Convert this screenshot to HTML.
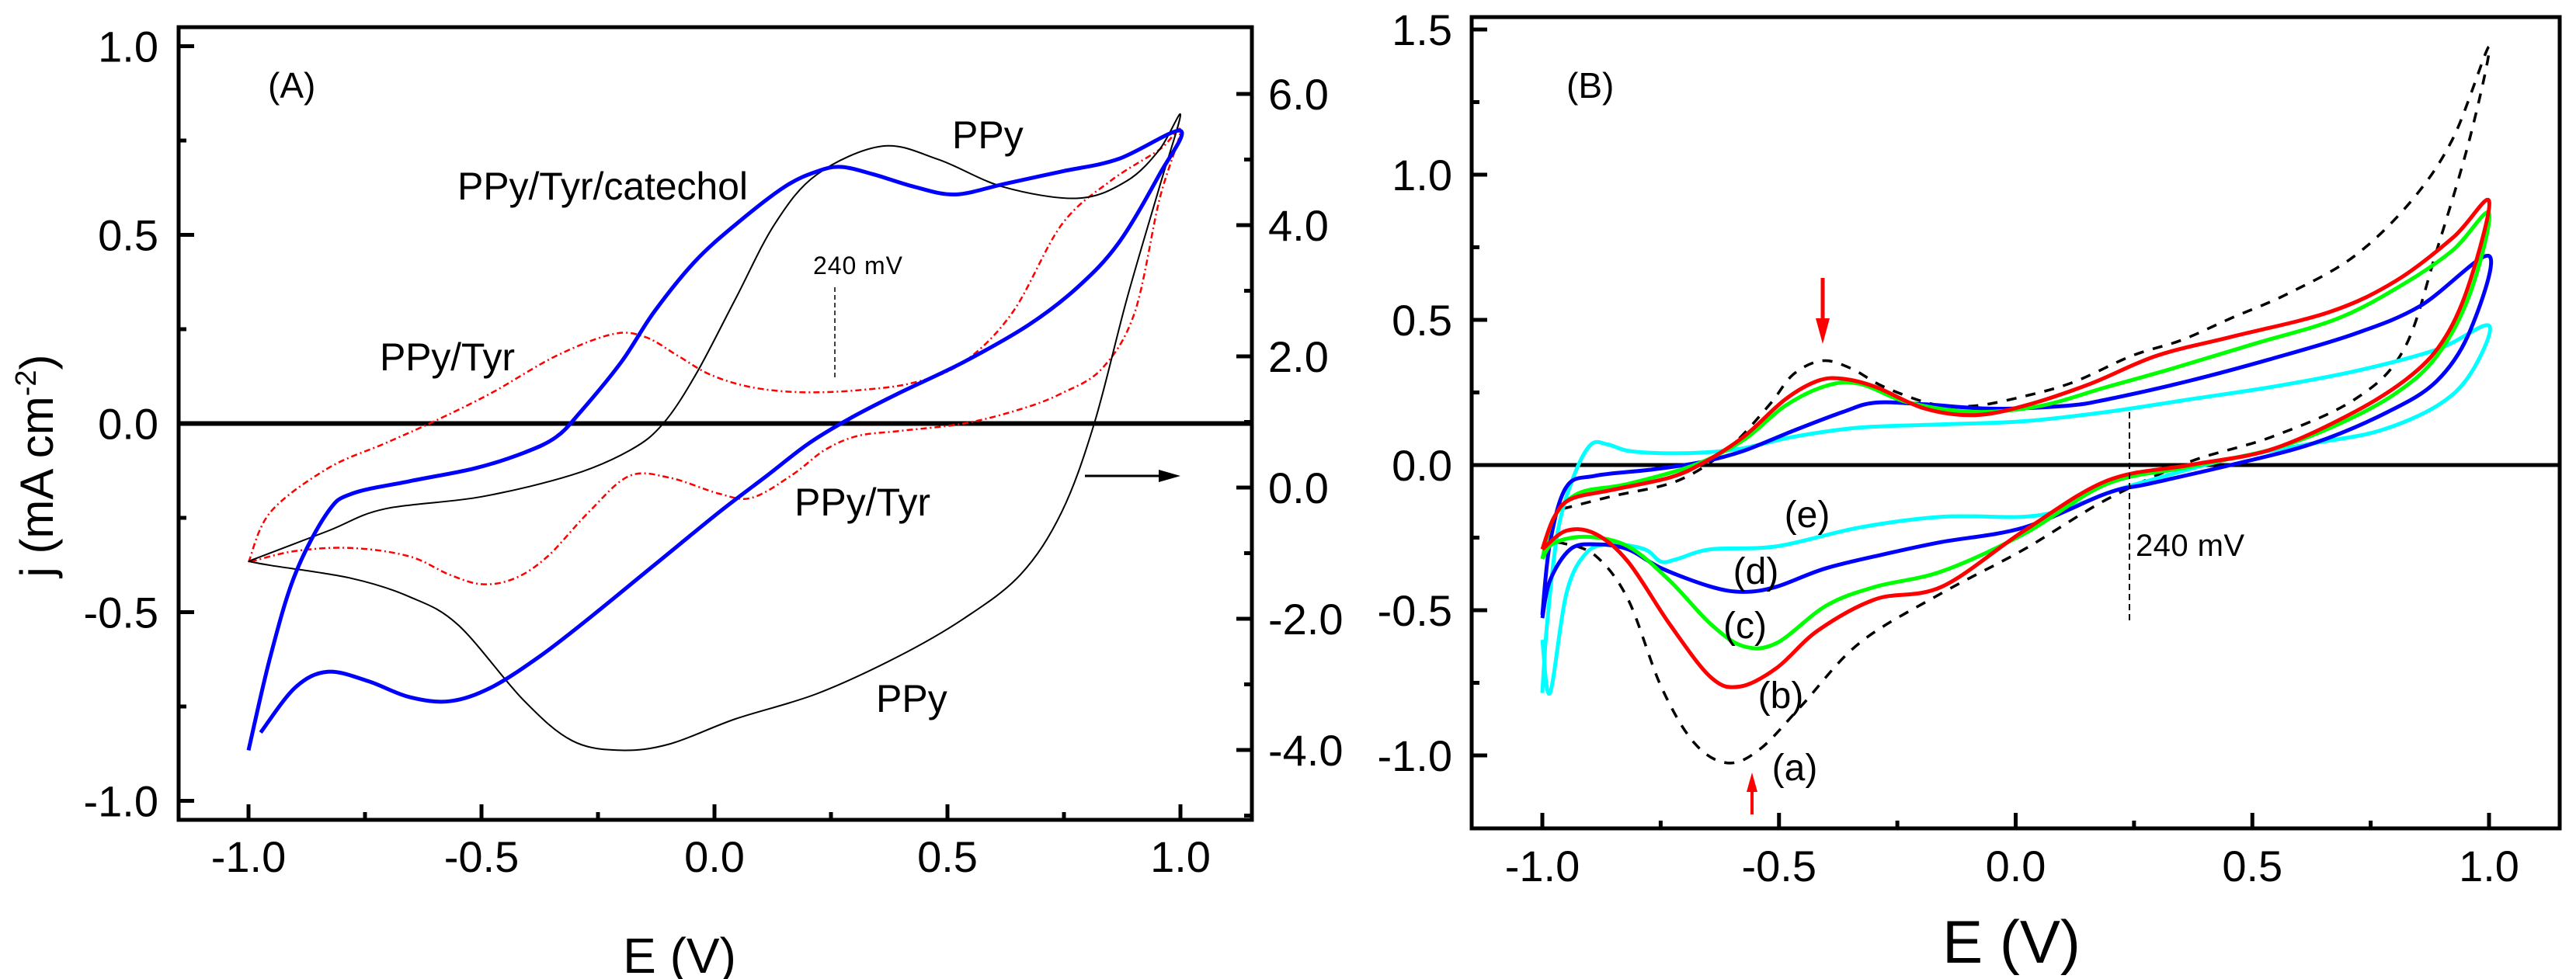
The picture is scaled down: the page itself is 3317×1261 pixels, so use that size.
<!DOCTYPE html>
<html><head><meta charset="utf-8">
<style>
html,body{margin:0;padding:0;background:#fff;}
svg{display:block;}
text{font-family:"Liberation Sans",sans-serif;fill:#000;}
.tk{font-size:56px;}
.nar{font-family:"Liberation Sans Narrow","Liberation Sans",sans-serif;}
</style></head>
<body>
<svg id="chart" width="3317" height="1261" viewBox="0 0 3317 1261" xmlns="http://www.w3.org/2000/svg">
<g id="panelA"></g>
<g id="panelB"></g>
</svg>
<script>
// ---------- Panel A data ----------
const aXTicks = [-1.0,-0.5,0.0,0.5,1.0];
const aYTicks = [1.0,0.5,0.0,-0.5,-1.0];
const aY2Ticks = [6.0,4.0,2.0,0.0,-2.0,-4.0];
const aPPyE = [-1.00,-0.83,-0.71,-0.50,-0.305,-0.18,-0.11,-0.04,0.045,0.13,0.22,0.36,0.48,0.62,0.78,0.885,0.955,1.00,0.955,0.885,0.815,0.745,0.657,0.535,0.395,0.22,0.045,-0.095,-0.20,-0.305,-0.41,-0.55,-0.655,-0.78,-0.953,-1.00];
const aPPyJ = [-0.365,-0.285,-0.227,-0.194,-0.136,-0.07,0.0,0.13,0.33,0.53,0.66,0.735,0.70,0.627,0.597,0.643,0.726,0.818,0.627,0.33,0.0,-0.235,-0.40,-0.517,-0.617,-0.716,-0.783,-0.849,-0.866,-0.841,-0.733,-0.534,-0.459,-0.41,-0.376,-0.365];
const aCatE = [-1.00,-0.953,-0.90,-0.83,-0.778,-0.655,-0.515,-0.41,-0.34,-0.288,-0.20,-0.13,-0.043,0.045,0.15,0.22,0.272,0.342,0.43,0.517,0.622,0.745,0.867,1.0,0.955,0.867,0.78,0.675,0.535,0.395,0.29,0.202,0.115,0.01,-0.13,-0.27,-0.375,-0.48,-0.568,-0.655,-0.743,-0.83,-0.90,-0.974];
const aCatJ = [-0.866,-0.617,-0.40,-0.235,-0.186,-0.153,-0.119,-0.078,-0.036,0.03,0.163,0.295,0.428,0.527,0.627,0.668,0.68,0.66,0.627,0.607,0.635,0.668,0.701,0.776,0.66,0.478,0.362,0.262,0.163,0.08,0.013,-0.053,-0.136,-0.235,-0.376,-0.517,-0.617,-0.70,-0.736,-0.725,-0.683,-0.658,-0.70,-0.819];
const aTyrE = [-1,-0.953,-0.83,-0.708,-0.603,-0.48,-0.34,-0.218,-0.148,-0.078,-0.008,0.08,0.185,0.307,0.43,0.535,0.64,0.745,0.85,0.955,1,0.955,0.902,0.832,0.745,0.657,0.535,0.395,0.307,0.237,0.167,0.08,0.01,-0.095,-0.183,-0.27,-0.358,-0.428,-0.498,-0.568,-0.655,-0.778,-0.90,-1];
const aTyrJ = [-0.368,-0.235,-0.119,-0.053,0.005,0.08,0.179,0.237,0.229,0.179,0.129,0.096,0.083,0.088,0.109,0.163,0.295,0.527,0.643,0.726,0.776,0.594,0.295,0.146,0.08,0.038,0,-0.02,-0.033,-0.07,-0.136,-0.197,-0.186,-0.144,-0.139,-0.235,-0.352,-0.41,-0.426,-0.401,-0.352,-0.33,-0.338,-0.368];

// ---------- Panel B data ----------
const bXTicks = [-1.0,-0.5,0.0,0.5,1.0];
const bYTicks = [1.5,1.0,0.5,0.0,-0.5,-1.0];
const bAE = [-0.958,-0.854,-0.714,-0.609,-0.522,-0.47,-0.409,-0.348,-0.278,-0.173,-0.086,0.018,0.123,0.245,0.35,0.454,0.576,0.716,0.838,0.925,1.0,0.96,0.89,0.82,0.716,0.541,0.367,0.193,0.018,-0.156,-0.33,-0.452,-0.54,-0.609,-0.679,-0.749,-0.819,-0.888,-0.958,-0.993];
const bAJ = [-0.151,-0.108,-0.054,0.054,0.204,0.312,0.359,0.333,0.269,0.209,0.204,0.237,0.286,0.376,0.43,0.505,0.591,0.72,0.914,1.129,1.441,1.129,0.742,0.398,0.226,0.097,0.011,-0.118,-0.29,-0.441,-0.613,-0.828,-0.978,-1.026,-0.957,-0.763,-0.462,-0.312,-0.269,-0.269];
const bBE = [-1,-0.976,-0.941,-0.854,-0.731,-0.662,-0.575,-0.487,-0.418,-0.365,-0.296,-0.191,-0.086,0.018,0.158,0.297,0.454,0.663,0.803,0.925,1.0,0.96,0.908,0.838,0.716,0.541,0.367,0.193,0.018,-0.156,-0.296,-0.418,-0.505,-0.583,-0.644,-0.731,-0.819,-0.888,-0.949,-1];
const bBJ = [-0.29,-0.183,-0.118,-0.086,-0.043,0.006,0.097,0.226,0.29,0.297,0.269,0.194,0.172,0.204,0.28,0.376,0.441,0.527,0.634,0.785,0.91,0.634,0.441,0.312,0.183,0.054,0,-0.054,-0.226,-0.419,-0.462,-0.57,-0.699,-0.763,-0.731,-0.548,-0.333,-0.237,-0.226,-0.29];
const bCE = [-1,-0.976,-0.923,-0.819,-0.679,-0.575,-0.487,-0.4,-0.33,-0.226,-0.086,0.053,0.193,0.332,0.507,0.681,0.82,0.925,1,0.96,0.89,0.803,0.681,0.541,0.367,0.193,0.018,-0.156,-0.296,-0.4,-0.505,-0.575,-0.644,-0.731,-0.819,-0.906,-0.976,-1];
const bCJ = [-0.323,-0.183,-0.097,-0.065,0,0.086,0.204,0.273,0.28,0.215,0.183,0.204,0.269,0.333,0.419,0.505,0.624,0.742,0.867,0.591,0.376,0.247,0.14,0.054,-0.006,-0.065,-0.237,-0.366,-0.419,-0.484,-0.613,-0.624,-0.548,-0.398,-0.28,-0.247,-0.269,-0.323];
const bDE = [-1,-0.984,-0.949,-0.888,-0.766,-0.662,-0.575,-0.47,-0.365,-0.296,-0.191,-0.051,0.106,0.193,0.367,0.541,0.716,0.855,1,0.96,0.89,0.786,0.629,0.454,0.28,0.193,0.018,-0.156,-0.261,-0.4,-0.505,-0.575,-0.644,-0.749,-0.819,-0.888,-0.941,-0.984,-1];
const bDJ = [-0.516,-0.269,-0.075,-0.037,-0.015,0.011,0.049,0.118,0.183,0.215,0.209,0.194,0.204,0.226,0.29,0.366,0.452,0.548,0.72,0.462,0.29,0.183,0.075,0,-0.065,-0.097,-0.215,-0.265,-0.301,-0.355,-0.419,-0.437,-0.419,-0.355,-0.29,-0.273,-0.29,-0.398,-0.527];
const bEE = [-1,-0.99,-0.967,-0.932,-0.897,-0.862,-0.819,-0.749,-0.662,-0.575,-0.47,-0.33,-0.156,0.018,0.193,0.367,0.541,0.716,0.89,1,0.96,0.89,0.768,0.629,0.454,0.28,0.193,0.106,0.018,-0.156,-0.33,-0.505,-0.644,-0.714,-0.749,-0.784,-0.854,-0.906,-0.949,-0.984,-1];
const bEJ = [-0.785,-0.548,-0.226,-0.032,0.071,0.071,0.049,0.041,0.043,0.058,0.097,0.129,0.14,0.151,0.183,0.226,0.269,0.323,0.398,0.48,0.312,0.204,0.118,0.075,0.022,-0.054,-0.097,-0.151,-0.178,-0.178,-0.215,-0.28,-0.29,-0.323,-0.333,-0.29,-0.273,-0.301,-0.441,-0.785,-0.602];

const NS = "http://www.w3.org/2000/svg";
function mk(parent, tag, attrs){
  const e = document.createElementNS(NS, tag);
  for (const k in attrs) e.setAttribute(k, attrs[k]);
  parent.appendChild(e);
  return e;
}
function smooth(pts){
  let d = "M" + pts[0][0].toFixed(1) + "," + pts[0][1].toFixed(1);
  for (let i=0;i<pts.length-1;i++){
    const p0 = pts[i-1]||pts[i], p1=pts[i], p2=pts[i+1], p3=pts[i+2]||p2;
    const c1x = p1[0]+(p2[0]-p0[0])/6, c1y = p1[1]+(p2[1]-p0[1])/6;
    const c2x = p2[0]-(p3[0]-p1[0])/6, c2y = p2[1]-(p3[1]-p1[1])/6;
    d += " C"+c1x.toFixed(1)+","+c1y.toFixed(1)+" "+c2x.toFixed(1)+","+c2y.toFixed(1)+" "+p2[0].toFixed(1)+","+p2[1].toFixed(1);
  }
  return d;
}

// ================= PANEL A =================
(function(){
  const g = document.getElementById('panelA');
  const L=230,R=1612,T=35,B=1056;
  const xA = e => 920 + e*600;
  const yA = j => 545.5 - j*486;
  const yA2 = v => 628 - v*84.5;
  const fr = mk(g,'rect',{x:L,y:T,width:R-L,height:B-T,fill:'none',stroke:'#000','stroke-width':5});
  
  
  // x ticks
  for (let v=-1; v<=1.001; v+=0.25){
    const maj = Math.abs(v*2-Math.round(v*2))<1e-6;
    const t = mk(g,'line',{x1:xA(v),x2:xA(v),y1:B,y2:B-(maj?20:10),stroke:'#000','stroke-width':5});
    
    
  }
  aXTicks.forEach(v=>{
    const t = mk(g,'text',{x:xA(v),y:1123,'text-anchor':'middle',class:'tk'});
    t.textContent = v.toFixed(1);
    
    
  });
  for (let v=-1; v<=1.001; v+=0.25){
    const maj = Math.abs(v*2-Math.round(v*2))<1e-6;
    const t = mk(g,'line',{x1:L,x2:L+(maj?20:10),y1:yA(v),y2:yA(v),stroke:'#000','stroke-width':5});
    
    
  }
  aYTicks.forEach(v=>{
    const t = mk(g,'text',{x:204,y:yA(v)+20,'text-anchor':'end',class:'tk'});
    t.textContent = v.toFixed(1);
    
    
  });
  for (let v=-5; v<=6.001; v+=1){
    const maj = (Math.round(v)%2===0);
    const t = mk(g,'line',{x1:R,x2:R-(maj?20:10),y1:yA2(v),y2:yA2(v),stroke:'#000','stroke-width':5});
    
    
  }
  aY2Ticks.forEach(v=>{
    const t = mk(g,'text',{x:1633,y:yA2(v)+20,'text-anchor':'start',class:'tk'});
    t.textContent = v.toFixed(1);
    
    
  });
  const z = mk(g,'line',{x1:L,x2:R,y1:yA(0),y2:yA(0),stroke:'#000','stroke-width':6});
  
  

  const toPts=(E,J)=>E.map((e,i)=>[xA(e),yA(J[i])]);
  const p1 = mk(g,'path',{d:smooth(toPts(aTyrE,aTyrJ)),fill:'none',stroke:'#ff0000','stroke-width':2.5,'stroke-dasharray':'8,4,2,4'});
  
  
  const p2 = mk(g,'path',{d:smooth(toPts(aPPyE,aPPyJ)),fill:'none',stroke:'#000','stroke-width':2});
  
  
  const p3 = mk(g,'path',{d:smooth(toPts(aCatE,aCatJ)),fill:'none',stroke:'#0000ff','stroke-width':5,'stroke-linejoin':'round'});
  
  

  const dv = mk(g,'line',{x1:1075,x2:1075,y1:370,y2:486,stroke:'#000','stroke-width':1.5,'stroke-dasharray':'6,4'});
  
  
  const ar = mk(g,'line',{x1:1397,x2:1500,y1:613,y2:613,stroke:'#000','stroke-width':3});
  
  
  const ah = mk(g,'polygon',{points:'1520,613 1492,605 1492,621',fill:'#000'});
  
  
})();
</script>
<svg style="position:absolute;left:0;top:0" width="3317" height="1261" xmlns="http://www.w3.org/2000/svg">
<text x="345" y="126" class="nar" font-size="46">(A)</text>
<text x="1226" y="191" class="nar" font-size="50">PPy</text>
<text x="589" y="257" class="nar" font-size="50" textLength="374">PPy/Tyr/catechol</text>
<text x="489" y="477" class="nar" font-size="50" textLength="174">PPy/Tyr</text>
<text x="1023" y="664" class="nar" font-size="50" textLength="175">PPy/Tyr</text>
<text x="1128" y="917" class="nar" font-size="50">PPy</text>
<text x="1047" y="353" class="nar" font-size="32" textLength="115">240 mV</text>
<text x="875" y="1253" text-anchor="middle" font-size="64">E (V)</text>
<text transform="translate(68,600) rotate(-90)" text-anchor="middle" font-size="60">j (mA cm<tspan dy="-22" font-size="38">-2</tspan><tspan dy="22">)</tspan></text>
<text x="2017" y="126" class="nar" font-size="46">(B)</text>
<text x="2750" y="716" class="nar" font-size="40" textLength="140">240 mV</text>
<text x="2327" y="679" class="nar" font-size="48" text-anchor="middle">(e)</text>
<text x="2261" y="752" class="nar" font-size="48" text-anchor="middle">(d)</text>
<text x="2247" y="822" class="nar" font-size="48" text-anchor="middle">(c)</text>
<text x="2293" y="912" class="nar" font-size="48" text-anchor="middle">(b)</text>
<text x="2311" y="1005" class="nar" font-size="48" text-anchor="middle">(a)</text>
<text x="2590" y="1240" text-anchor="middle" font-size="78">E (V)</text>
</svg>
<script>
// ================= PANEL B =================
(function(){
  const g = document.getElementById('panelB');
  const L=1895,R=3296,T=22,B=1067;
  const xB = e => 2595.5 + e*609.5;
  const yB = j => 599 - j*374;
  const fr = mk(g,'rect',{x:L,y:T,width:R-L,height:B-T,fill:'none',stroke:'#000','stroke-width':5});
  
  
  for (let v=-1; v<=1.001; v+=0.25){
    const maj = Math.abs(v*2-Math.round(v*2))<1e-6;
    const t = mk(g,'line',{x1:xB(v),x2:xB(v),y1:B,y2:B-(maj?20:10),stroke:'#000','stroke-width':5});
    
    
  }
  bXTicks.forEach(v=>{
    const t = mk(g,'text',{x:xB(v),y:1135,'text-anchor':'middle',class:'tk'});
    t.textContent = v.toFixed(1);
    
    
  });
  for (let v=-1; v<=1.501; v+=0.25){
    const maj = Math.abs(v*2-Math.round(v*2))<1e-6;
    const t = mk(g,'line',{x1:L,x2:L+(maj?20:10),y1:yB(v),y2:yB(v),stroke:'#000','stroke-width':5});
    
    
  }
  bYTicks.forEach(v=>{
    const t = mk(g,'text',{x:1870,y:yB(v)+20,'text-anchor':'end',class:'tk'});
    t.textContent = v.toFixed(1);
    
    
  });
  const z = mk(g,'line',{x1:L,x2:R,y1:yB(0),y2:yB(0),stroke:'#000','stroke-width':5});
  
  
  const toPts=(E,J)=>E.map((e,i)=>[xB(e),yB(J[i])]);
  const pa = mk(g,'path',{d:smooth(toPts(bAE,bAJ)),fill:'none',stroke:'#000','stroke-width':3.5,'stroke-dasharray':'13,12'});
  
  
  const pe = mk(g,'path',{d:smooth(toPts(bEE,bEJ)),fill:'none',stroke:'#00ffff','stroke-width':5});
  
  
  const pd = mk(g,'path',{d:smooth(toPts(bDE,bDJ)),fill:'none',stroke:'#0000ff','stroke-width':5});
  
  
  const pc = mk(g,'path',{d:smooth(toPts(bCE,bCJ)),fill:'none',stroke:'#00ff00','stroke-width':5});
  
  
  const pb = mk(g,'path',{d:smooth(toPts(bBE,bBJ)),fill:'none',stroke:'#ff0000','stroke-width':5});
  
  
  const dv = mk(g,'line',{x1:2742,x2:2742,y1:531,y2:800,stroke:'#000','stroke-width':2,'stroke-dasharray':'8,5'});
  
  
  const a1 = mk(g,'line',{x1:2347,x2:2347,y1:358,y2:415,stroke:'#ff0000','stroke-width':5});
  
  
  const a1h = mk(g,'polygon',{points:'2347,443 2338,410 2356,410',fill:'#ff0000'});
  
  
  const a2 = mk(g,'line',{x1:2256,x2:2256,y1:1049,y2:1015,stroke:'#ff0000','stroke-width':4});
  
  
  const a2h = mk(g,'polygon',{points:'2256,995 2249,1020 2263,1020',fill:'#ff0000'});
  
  
})();
</script>
</body></html>
